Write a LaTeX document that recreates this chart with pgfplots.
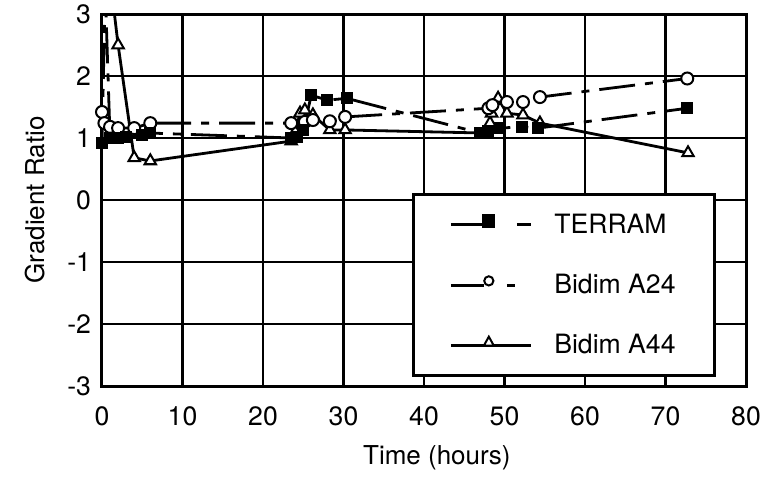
\documentclass[border=0pt]{standalone}
\usepackage{fontspec}
\setmainfont{TeX Gyre Heros}
\usepackage{pgfplots}
\pgfplotsset{compat=1.18}
\begin{document}
\begin{tikzpicture}
\begin{axis}[
  scale only axis,
  width=322pt, height=186pt,
  xmin=0, xmax=80, ymin=-3, ymax=3,
  xtick={0,10,...,80}, ytick={-3,-2,...,3},
  grid=major,
  major grid style={black, line width=1.2pt},
  axis line style={line width=1.5pt},
  major tick length=0pt,
  /pgf/number format/assume math mode=true,
  tick label style={font=\fontsize{13.3}{15}\selectfont},
  xticklabel style={yshift=-7pt},
  yticklabel style={xshift=-2pt},
  xlabel={Time (hours)},
  ylabel={Gradient Ratio},
  every axis x label/.style={at={(axis description cs:0.52,0)}, anchor=center, yshift=-36pt, font=\fontsize{13}{15}\selectfont},
  every axis y label/.style={at={(axis description cs:-0.104,0.5)}, anchor=center, rotate=90, font=\fontsize{13}{15}\selectfont},
]
% Bidim A44
\addplot[black, line width=1.4pt, solid, mark=triangle*, mark size=3.3pt, mark options={fill=white, line width=1pt}] table {
x y
1 3.6
2 2.5
4 0.68
6 0.63
23.5 0.95
24 1.1
24.6 1.4
25.2 1.45
26.2 1.37
28.3 1.13
30.2 1.13
47.5 1.08
48.2 1.24
48.4 1.4
49.2 1.64
50.3 1.4
52.3 1.37
54.4 1.24
72.8 0.76
};
% Bidim A24
\addplot[black, line width=1.4pt, dash pattern=on 18pt off 5pt on 4pt off 5pt, mark=*, mark size=3pt, mark options={solid, fill=white, line width=1pt}] table {
x y
0 1.42
0.3 1.24
1 1.18
2 1.16
4 1.16
6 1.24
23.5 1.24
25.2 1.26
26.2 1.29
28.3 1.27
30.2 1.34
48 1.48
48.5 1.53
50.3 1.58
52.3 1.58
54.4 1.66
72.7 1.96
};
% TERRAM
\addplot[black, line width=1.4pt, dash pattern=on 18pt off 5pt on 4pt off 5pt, mark=square*, mark size=2.3pt, mark options={solid}] table {
x y
0 0.92
0.4 3.4
1 1.0
2 1.0
3 1.02
5 1.05
6 1.08
23.5 1.0
24.2 1.02
25 1.13
26 1.69
28 1.61
30.4 1.64
47 1.08
48 1.12
49.4 1.16
52.2 1.18
54.2 1.16
72.7 1.48
};
\end{axis}
\begin{axis}[
  scale only axis,
  width=322pt, height=186pt,
  xmin=0, xmax=80, ymin=-3, ymax=3,
  hide axis,
  legend style={at={(axis cs:38.5,0.11)}, anchor=north west, draw=black, line width=1.5pt, fill=white,
    inner xsep=18pt, inner ysep=5.5pt, row sep=11pt, font=\fontsize{13.3}{14}\selectfont,
    nodes={inner sep=4pt}},
  legend cell align=left,
]
\addlegendimage{legend image code/.code={
  \draw[solid, black, line width=1.4pt] (0pt,0pt) -- (17pt,0pt);
  \fill[black] (16.5pt,-0.7pt) rectangle (21.5pt,4.5pt);
  \draw[solid, black, line width=1.4pt] (33pt,0pt) -- (40pt,0pt);
}}
\addlegendentry{\makebox[65pt][l]{\hspace*{7pt}TERRAM}}
\addlegendimage{legend image code/.code={
  \draw[solid, black, line width=1.4pt] (0pt,0pt) -- (16.5pt,0pt);
  \draw[solid, black, fill=white, line width=1pt] (19pt,2.2pt) circle (2.3pt);
  \draw[solid, black, line width=1.4pt] (28pt,0pt) -- (32pt,0pt);
  \path (40pt,0pt);
}}
\addlegendentry{\makebox[65pt][l]{\hspace*{7pt}Bidim A24}}
\addlegendimage{legend image code/.code={
  \draw[solid, black, line width=1.4pt] (0pt,0pt) -- (40pt,0pt);
  \draw[solid, black, fill=white, line width=1pt] (16.5pt,0pt) -- (21.5pt,0pt) -- (19pt,4.5pt) -- cycle;
}}
\addlegendentry{\makebox[65pt][l]{\hspace*{7pt}Bidim A44}}
\end{axis}
\pgfresetboundingbox
\path (current axis.south west) ++(-51pt,-46.5pt) rectangle ++(387.5pt,239.5pt);
\end{tikzpicture}
\end{document}
